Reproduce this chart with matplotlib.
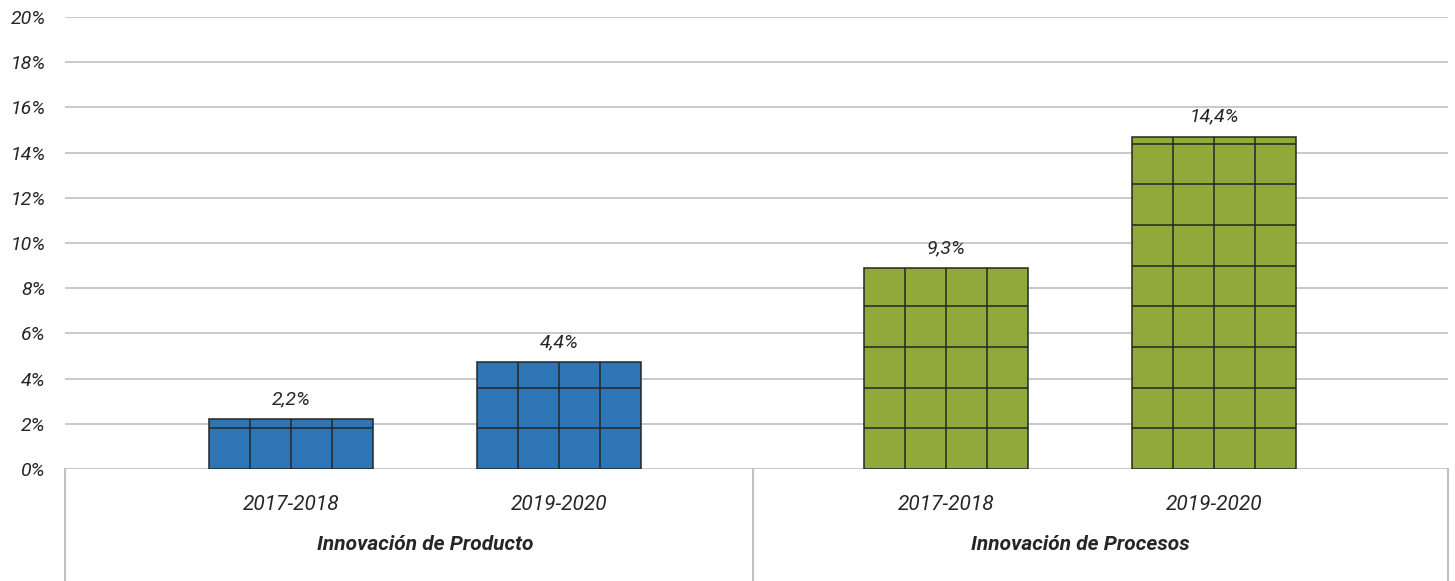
import matplotlib
matplotlib.use("Agg")
import matplotlib.pyplot as plt
import matplotlib.transforms as mtransforms
import numpy as np

plt.rcParams['font.family'] = ['Roboto', 'DejaVu Sans']

# data
groups = ['Innovación de Producto', 'Innovación de Procesos']
periods = ['2017-2018', '2019-2020']
values = [2.2, 4.4, 9.3, 14.4]          # printed labels (%)
bar_heights = [2.2, 4.72, 8.88, 14.7]   # drawn heights (%)
colors_by_group = ['#2E75B6', '#8FAA3B']
yticks = list(range(0, 21, 2))

# layout
GROUP_SHIFT = 2.444
BAR_W = 0.612
CELL_H = 1.8
TEXT = '#262626'
GRID = '#C0C0C0'

positions = []
cat_labels = []
bar_colors = []
for g, name in enumerate(groups):
    for i, p in enumerate(periods):
        positions.append(g * GROUP_SHIFT + i)
        cat_labels.append(p)
        bar_colors.append(colors_by_group[g])

fig = plt.figure(figsize=(14.55, 5.81), dpi=100)
ax = fig.add_axes([65 / 1455, 112 / 581, (1448 - 65) / 1455, 452 / 581])

bars = ax.bar(positions, bar_heights, width=BAR_W, color=bar_colors,
              edgecolor=TEXT, linewidth=1.1, zorder=3)

# cell grid inside each bar (pictograph look)
for b in bars:
    x0, w, h = b.get_x(), b.get_width(), b.get_height()
    ax.vlines([x0 + k * w / 4 for k in range(1, 4)], 0, h, color=TEXT, lw=1.1, zorder=4)
    levels = np.arange(CELL_H, h, CELL_H)
    ax.hlines(levels, x0, x0 + w, color=TEXT, lw=1.1, zorder=4)

for b, v in zip(bars, values):
    ax.annotate(f'{v:.1f}%'.replace('.', ','), (b.get_x() + b.get_width() / 2, b.get_height()),
                xytext=(0, 8), textcoords='offset points', ha='center', va='bottom',
                fontsize=14, style='italic', color=TEXT)

ax.set_ylim(0, 20)
ax.set_xlim(-0.845, 4.316)
ax.set_yticks(yticks)
ax.set_yticklabels([f'{t}%' for t in yticks], fontsize=14, style='italic', color=TEXT)
ax.tick_params(axis='y', length=0, pad=14)
ax.set_xticks(positions)
ax.set_xticklabels(cat_labels, fontsize=15, style='italic', color=TEXT)
ax.tick_params(axis='x', length=0, pad=19)
ax.yaxis.grid(True, color=GRID, lw=1.2, zorder=0)
ax.set_axisbelow(True)
for s in ax.spines.values():
    s.set_visible(False)

# category box below the axis
trans = mtransforms.blended_transform_factory(ax.transData, ax.transAxes)
divider = (1 + GROUP_SHIFT) / 2
x_left, x_right = ax.get_xlim()
for xv in [x_left, divider, x_right]:
    ax.plot([xv, xv], [0, -0.26], transform=trans, color=GRID, lw=1.5, clip_on=False)

for g, name in enumerate(groups):
    ax.text(g * GROUP_SHIFT + 0.5, -0.168, name, transform=trans, ha='center', va='center',
            fontsize=15, style='italic', fontweight='bold', color=TEXT)

fig.savefig('out.png', dpi=100)
